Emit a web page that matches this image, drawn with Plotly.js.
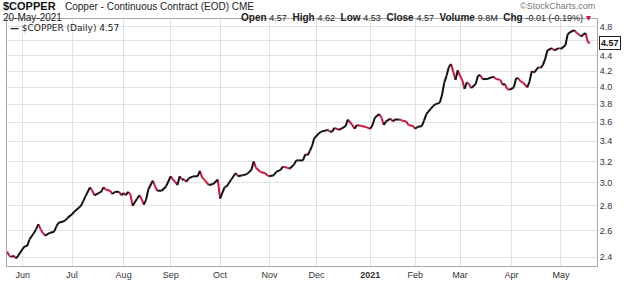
<!DOCTYPE html>
<html>
<head>
<meta charset="utf-8">
<script src="https://cdn.plot.ly/plotly-3.0.1.min.js"></script>
<style>
  html, body { margin: 0; padding: 0; background: #fff; }
  #chart { width: 630px; height: 281px; }
</style>
</head>
<body>
<div id="chart"></div>
<script>
// ---- Data ----
var dates = [
"2020-05-21","2020-05-22","2020-05-25","2020-05-26","2020-05-27","2020-05-28",
"2020-06-01","2020-06-02","2020-06-03","2020-06-04","2020-06-08","2020-06-09","2020-06-10","2020-06-11","2020-06-12",
"2020-06-15","2020-06-17","2020-06-19","2020-06-22","2020-06-23","2020-06-25","2020-06-26","2020-06-29",
"2020-07-01","2020-07-02","2020-07-07","2020-07-08","2020-07-09","2020-07-13","2020-07-14","2020-07-15","2020-07-17",
"2020-07-20","2020-07-21","2020-07-22","2020-07-24","2020-07-27","2020-07-28","2020-07-30","2020-07-31",
"2020-08-03","2020-08-04","2020-08-05","2020-08-06","2020-08-07","2020-08-11","2020-08-12","2020-08-13","2020-08-14",
"2020-08-17","2020-08-18","2020-08-20","2020-08-21","2020-08-24","2020-08-26","2020-08-28",
"2020-09-01","2020-09-02","2020-09-03","2020-09-04","2020-09-07","2020-09-08","2020-09-09","2020-09-10","2020-09-11",
"2020-09-15","2020-09-17","2020-09-18","2020-09-21","2020-09-22","2020-09-24","2020-09-28","2020-09-30",
"2020-10-01","2020-10-05","2020-10-06","2020-10-08","2020-10-12","2020-10-13","2020-10-15","2020-10-19","2020-10-20",
"2020-10-21","2020-10-22","2020-10-23","2020-10-27","2020-10-29","2020-10-30",
"2020-11-02","2020-11-04","2020-11-05","2020-11-09","2020-11-10","2020-11-12","2020-11-13","2020-11-17","2020-11-18",
"2020-11-19","2020-11-23","2020-11-24","2020-11-25","2020-11-26","2020-11-27","2020-11-30",
"2020-12-02","2020-12-03","2020-12-07","2020-12-08","2020-12-09","2020-12-10","2020-12-11","2020-12-15","2020-12-16",
"2020-12-18","2020-12-21","2020-12-23","2020-12-24","2020-12-25","2020-12-29","2020-12-31",
"2021-01-04","2021-01-05","2021-01-06","2021-01-08","2021-01-11","2021-01-12","2021-01-13","2021-01-15","2021-01-18",
"2021-01-19","2021-01-21","2021-01-22","2021-01-26","2021-01-27","2021-01-29",
"2021-02-01","2021-02-02","2021-02-04","2021-02-05","2021-02-08","2021-02-10","2021-02-11","2021-02-12","2021-02-16",
"2021-02-17","2021-02-18","2021-02-19","2021-02-22","2021-02-23","2021-02-24","2021-02-25","2021-02-26",
"2021-03-01","2021-03-02","2021-03-03","2021-03-04","2021-03-05","2021-03-08","2021-03-10","2021-03-11","2021-03-12",
"2021-03-15","2021-03-17","2021-03-18","2021-03-22","2021-03-23","2021-03-25","2021-03-26","2021-03-29","2021-03-30","2021-03-31",
"2021-04-02","2021-04-05","2021-04-06","2021-04-07","2021-04-08","2021-04-12","2021-04-13","2021-04-14","2021-04-15",
"2021-04-19","2021-04-20","2021-04-21","2021-04-22","2021-04-23","2021-04-27","2021-04-28","2021-04-30",
"2021-05-03","2021-05-05","2021-05-06","2021-05-07","2021-05-11","2021-05-12","2021-05-13","2021-05-14",
"2021-05-17","2021-05-18","2021-05-19","2021-05-20"
];
var prices = [
2.44,2.41,2.40,2.41,2.39,2.41,
2.46,2.48,2.48,2.53,2.58,2.61,2.65,2.61,2.58,
2.56,2.58,2.59,2.63,2.66,2.67,2.68,2.70,
2.73,2.75,2.80,2.84,2.88,2.96,2.93,2.89,2.91,
2.92,2.96,2.94,2.93,2.90,2.92,2.92,2.89,
2.91,2.89,2.92,2.90,2.80,2.86,2.89,2.86,2.81,
2.85,2.94,3.02,2.97,2.93,2.93,2.97,
3.06,3.03,3.01,2.98,3.06,3.03,3.03,3.01,3.04,
3.06,3.06,3.11,3.05,3.03,2.98,2.99,3.03,
2.86,2.96,2.97,3.03,3.09,3.06,3.07,3.08,3.10,
3.12,3.20,3.14,3.10,3.09,3.07,
3.06,3.07,3.10,3.12,3.15,3.14,3.13,3.17,3.21,
3.21,3.21,3.27,3.26,3.30,3.35,3.43,
3.48,3.50,3.51,3.52,3.50,3.50,3.54,3.52,3.53,
3.56,3.63,3.57,3.53,3.57,3.56,3.55,
3.53,3.57,3.65,3.69,3.65,3.57,3.61,3.64,3.61,
3.63,3.63,3.62,3.61,3.57,3.56,
3.53,3.55,3.56,3.62,3.69,3.75,3.78,3.80,3.82,
3.91,4.06,4.14,4.25,4.29,4.19,4.09,4.21,
4.14,4.09,3.98,4.06,4.04,3.99,4.04,4.14,4.15,
4.10,4.10,4.11,4.13,4.10,4.09,4.03,4.04,3.98,3.97,
4.00,4.11,4.11,4.07,4.06,4.00,4.07,4.20,4.18,
4.25,4.24,4.28,4.36,4.47,4.50,4.47,4.50,
4.49,4.54,4.69,4.72,4.75,4.71,4.69,4.66,
4.69,4.71,4.58,4.57
];
var monthTickDates = ["2020-06-01","2020-07-01","2020-08-03","2020-09-01","2020-10-01","2020-11-02",
                      "2020-12-01","2021-01-04","2021-02-01","2021-03-01","2021-04-01","2021-05-03"];
var monthTickLabels = ["Jun","Jul","Aug","Sep","Oct","Nov","Dec","<b>2021</b>","Feb","Mar","Apr","May"];
var priceTicks = [2.4,2.6,2.8,3.0,3.2,3.4,3.6,3.8,4.0,4.2,4.4,4.6,4.8];
// 4.6 label is hidden behind the last-price marker in the reference
var priceTickLabels = ["2.4","2.6","2.8","3.0","3.2","3.4","3.6","3.8","4.0","4.2","4.4","","4.8"];
var header = {symbol:"$COPPER", name:"Copper - Continuous Contract (EOD)", exch:"CME", date:"20-May-2021",
  open:"4.57", high:"4.62", low:"4.53", close:"4.57", volume:"9.8M", chg:"-0.01 (-0.19%)"};

// ---- Build up (black) / down (red) segments ----
var upX = [], upY = [], dnX = [], dnY = [];
for (var i = 0; i < prices.length - 1; i++) {
  if (prices[i + 1] >= prices[i]) {
    upX.push(dates[i], dates[i + 1], null); upY.push(prices[i], prices[i + 1], null);
  } else {
    dnX.push(dates[i], dates[i + 1], null); dnY.push(prices[i], prices[i + 1], null);
  }
}
var UP = "#111111", DN = "#c8173f";
var traces = [
  {x: dnX, y: dnY, type: "scatter", mode: "lines", line: {color: DN, width: 2}, connectgaps: false, hoverinfo: "skip"},
  {x: upX, y: upY, type: "scatter", mode: "lines", line: {color: UP, width: 2}, connectgaps: false, hoverinfo: "skip"}
];

var last = prices[prices.length - 1];
var FONT = "Liberation Sans, Arial, sans-serif";
var PH = 247; // plot height in px (281 - 19 - 15)
function py(pixY) { return 1 + (19 - pixY) / PH; } // page pixel -> paper y
var layout = {
  width: 630, height: 281,
  margin: {l: 7, r: 33, t: 19, b: 15, pad: 0},
  paper_bgcolor: "#ffffff", plot_bgcolor: "#ffffff",
  showlegend: false,
  font: {family: FONT, size: 9, color: "#333"},
  xaxis: {
    type: "date",
    range: ["2020-05-21", "2021-05-25 02:00"],
    rangebreaks: [{bounds: ["sat", "mon"]}],
    tickmode: "array", tickvals: monthTickDates, ticktext: monthTickLabels,
    showgrid: true, gridcolor: "#e2e2e2", gridwidth: 1,
    showline: true, mirror: true, linecolor: "#a8a8a8", linewidth: 1,
    ticks: "", zeroline: false, fixedrange: true,
    tickfont: {family: FONT, size: 9, color: "#333"}
  },
  yaxis: {
    type: "log", side: "right",
    range: [0.36845, 0.6913],
    tickmode: "array", tickvals: priceTicks, ticktext: priceTickLabels,
    showgrid: true, gridcolor: "#e2e2e2", gridwidth: 1,
    showline: true, mirror: true, linecolor: "#a8a8a8", linewidth: 1,
    ticks: "", zeroline: false, fixedrange: true,
    tickfont: {family: FONT, size: 9, color: "#333"}
  },
  annotations: [
    {xref: "paper", yref: "paper", x: -0.009, y: py(6.4), xanchor: "left", yanchor: "middle", showarrow: false,
     text: "<b>" + header.symbol + "</b>", font: {family: FONT, size: 11, color: "#111"}, borderpad: 0},
    {xref: "paper", yref: "paper", x: 0.097, y: py(6.5), xanchor: "left", yanchor: "middle", showarrow: false,
     text: header.name + " " + header.exch, font: {family: FONT, size: 10, color: "#222"}, borderpad: 0},
    {xref: "paper", yref: "paper", x: -0.009, y: py(17.3), xanchor: "left", yanchor: "middle", showarrow: false,
     text: header.date, font: {family: FONT, size: 10, color: "#222"}, borderpad: 0},
    {xref: "paper", yref: "paper", x: 0.991, y: py(17.3), xanchor: "right", yanchor: "middle", showarrow: false,
     text: "<b>Open</b> <span style='font-size:9px'>" + header.open + "</span>  <b>High</b> <span style='font-size:9px'>" + header.high +
           "</span>  <b>Low</b> <span style='font-size:9px'>" + header.low + "</span>  <b>Close</b> <span style='font-size:9px'>" + header.close +
           "</span>  <b>Volume</b> <span style='font-size:9px'>" + header.volume + "</span>  <b>Chg</b> <span style='font-size:9px'>" + header.chg +
           "</span> <span style='color:#c8173f'>▾</span>",
     font: {family: FONT, size: 10, color: "#222"}, borderpad: 0},
    {xref: "paper", yref: "paper", x: 0.999, y: py(6), xanchor: "right", yanchor: "middle", showarrow: false,
     text: "©StockCharts.com", font: {family: FONT, size: 9, color: "#777"}, borderpad: 0},
    {xref: "paper", yref: "paper", x: 0.003, y: py(27.5), xanchor: "left", yanchor: "middle", showarrow: false,
     text: "<b>—</b> " + header.symbol + " (Daily) " + header.close, font: {family: "DejaVu Sans, sans-serif", size: 9, color: "#222"}, borderpad: 0},
    {xref: "paper", yref: "y", x: 1, y: Math.log10(last), xanchor: "left", yanchor: "middle", xshift: 2, showarrow: false,
     text: "<b>" + last.toFixed(2) + "</b>", font: {family: FONT, size: 9, color: "#111"},
     bgcolor: "#ffffff", bordercolor: "#222", borderwidth: 1, borderpad: 1}
  ]
};

Plotly.newPlot("chart", traces, layout, {displayModeBar: false, staticPlot: true});
</script>
</body>
</html>
